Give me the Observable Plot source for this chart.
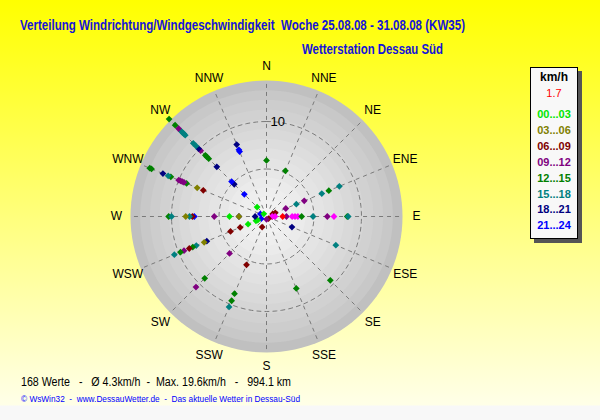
<!DOCTYPE html>
<html><head><meta charset="utf-8">
<script src="https://cdn.jsdelivr.net/npm/d3@7"></script>
<script src="https://cdn.jsdelivr.net/npm/@observablehq/plot@0.6"></script>
<style>
body{margin:0;}
#wrap{position:relative;width:600px;height:420px;overflow:hidden;
 background:linear-gradient(to bottom,#ffff00 0px,#ffffe8 405px,#f8f8f8 406px,#f8f8f8 420px);
 font-family:"Liberation Sans",Arial,sans-serif;}
#chart{position:absolute;left:0;top:0;}
.t{position:absolute;white-space:pre;transform-origin:0 50%;}
#legend{position:absolute;left:530px;top:67px;width:46px;height:170px;background:#f8f8f8;border:1px solid #000;box-shadow:4px 4px 0 #555;}
#legend div{position:absolute;left:0;width:46px;text-align:center;font-size:11px;font-weight:bold;line-height:11px;}
</style></head><body>
<div id="wrap">
<div id="chart"></div>
<div class="t" id="title" style="left:20px;top:16px;font-size:15px;line-height:17px;font-weight:bold;color:#1414d8;">Verteilung Windrichtung/Windgeschwindigkeit  Woche 25.08.08 - 31.08.08 (KW35)</div>
<div class="t" id="sub" style="left:302px;top:40px;font-size:15px;line-height:17px;font-weight:bold;color:#1414d8;">Wetterstation Dessau Süd</div>
<div class="t" id="foot1" style="left:21px;top:375px;font-size:12px;line-height:14px;color:#000;">168 Werte   -   Ø 4.3km/h  -  Max. 19.6km/h   -   994.1 km</div>
<div class="t" id="foot2" style="left:21px;top:394px;font-size:9px;line-height:10px;color:#0000ff;">© WsWin32  -  www.DessauWetter.de  -  Das aktuelle Wetter in Dessau-Süd</div>
<div id="legend"></div>
</div>
<script>
// ---- data ----
const directions = ["N","NNE","NE","ENE","E","ESE","SE","SSE","S","SSW","SW","WSW","W","WNW","NW","NNW"];
const timeGroups = ["00...03","03...06","06...09","09...12","12...15","15...18","18...21","21...24"];
const groupColors = ["#00e600","#808000","#800000","#800080","#008000","#008080","#000080","#0000ff","#ff00ff","#ff0000"];
const currentLabel = "1.7";
const currentSpeed = 1.7;
const currentDir = "E";
const ringLabel = "10";

// measured points: direction, speed km/h, colour group (0-7 time of day, 8 highlighted)
const pointDir = [
 "N","NNE",
 "ENE","ENE","ENE","ENE","ENE","ENE","ENE","ENE",
 "E","E","E","E","E","E","E","E","E","E","E","E","E",
 "ESE","ESE","SE","SE","SSE","S",
 "SSW","SSW","SSW","SSW","SSW",
 "SW","SW","SW",
 "WSW","WSW","WSW","WSW","WSW","WSW","WSW","WSW","WSW","WSW","WSW","WSW","WSW","WSW",
 "W","W","W","W","W","W","W","W","W","W","W",
 "WNW","WNW","WNW","WNW","WNW","WNW","WNW","WNW","WNW","WNW","WNW","WNW","WNW",
 "NW","NW","NW","NW","NW","NW","NW","NW","NW","NW","NW","NW","NW","NW","NW","NW","NW","NW","NW","NW",
 "NNW","NNW","NNW"
];
const pointSpeed = [
 5.9,5.2,
 0.7,1.0,2.2,3.4,4.3,6.3,7.1,8.3,
 0.6,0.6,0.9,2.1,2.7,3.0,3.3,3.7,4.9,6.4,7.1,8.5,8.6,
 2.9,7.9,9.5,0.3,8.2,0.3,
 1.2,5.5,8.8,9.6,10.3,
 5.5,9.2,10.5,
 0.6,1.0,1.2,2.1,3.0,4.1,6.8,7.1,8.0,8.4,8.8,9.4,9.8,10.5,
 1.2,2.9,2.9,3.9,5.5,7.6,7.8,8.1,8.5,10.3,10.0,
 0.7,7.2,7.9,9.1,9.4,9.6,9.8,10.0,10.9,11.2,11.8,13.1,13.3,
 0.4,1.4,3.3,4.8,5.2,7.4,8.6,8.9,9.1,9.8,10.1,10.5,10.9,12.1,12.3,12.5,12.7,13.1,13.6,14.5,
 7.4,7.6,8.2
];
const pointGroup = [
 4,4,
 2,2,3,5,3,5,4,5,
 2,8,8,3,8,8,8,4,5,3,8,4,5,
 6,5,4,2,4,3,
 2,2,4,4,5,
 3,4,3,
 7,0,0,0,2,2,6,1,5,4,2,3,4,5,
 6,6,1,0,3,7,2,5,1,4,5,
 7,2,1,4,3,3,3,3,4,5,6,4,4,
 0,0,7,6,7,6,4,4,4,3,6,5,5,5,5,5,5,3,4,4,
 7,7,6
];

// ---- chart ----
const PX = 9.5, CX = 266, CY = 216;          // layout of the polar frame
const R = 136 / PX;                           // outer radius in km/h
const ang = d => directions.indexOf(d) * 22.5 * Math.PI / 180;
const pts = pointDir.map((d, i) => ({x: pointSpeed[i] * Math.sin(ang(d)), y: pointSpeed[i] * Math.cos(ang(d)), c: groupColors[pointGroup[i]]}));
pts.push({x: currentSpeed * Math.sin(ang(currentDir)), y: currentSpeed * Math.cos(ang(currentDir)), c: groupColors[9]});

function circle(r) { const a = []; for (let t = 0; t < 360; t += 3) { const q = t * Math.PI / 180; a.push({x: r * Math.sin(q), y: r * Math.cos(q)}); } return a; }
const nRings = 14;
const shade = d3.interpolateRgb("#c0c0c0", "#f4f4f4");
const ringMarks = [];
for (let k = 0; k < nRings; k++) {
  const r = R * (1 - k / nRings);
  ringMarks.push(Plot.line(circle(r), {x: "x", y: "y", curve: "linear-closed", fill: shade(Math.pow(k / (nRings - 1), 0.75)), stroke: "none"}));
}
const spokes = directions.map(d => ({x1: 0.9 * Math.sin(ang(d)), y1: 0.9 * Math.cos(ang(d)), x2: R * Math.sin(ang(d)), y2: R * Math.cos(ang(d))}));
const labels = directions.map(d => ({x: 15.8 * Math.sin(ang(d)), y: 15.8 * Math.cos(ang(d)), t: d}));

const chart = Plot.plot({
  width: 600, height: 420, margin: 0,
  x: {domain: [-CX / PX, (600 - CX) / PX], axis: null},
  y: {domain: [-(420 - CY) / PX, CY / PX], axis: null},
  style: {background: "transparent", fontFamily: "Liberation Sans, Arial, sans-serif"},
  marks: [
    ...ringMarks,
    Plot.line(circle(5), {x: "x", y: "y", curve: "linear-closed", stroke: "#7a7a7a", strokeDasharray: "4,4", strokeWidth: 1}),
    Plot.line(circle(10), {x: "x", y: "y", curve: "linear-closed", stroke: "#7a7a7a", strokeDasharray: "4,4", strokeWidth: 1}),
    Plot.link(spokes, {x1: "x1", y1: "y1", x2: "x2", y2: "y2", stroke: "#7a7a7a", strokeDasharray: "4,4", strokeWidth: 1}),
    Plot.text(labels, {x: "x", y: "y", text: "t", fontSize: 12, fill: "#000"}),
    Plot.text([ringLabel], {x: 0.42, y: 10, text: d => d, textAnchor: "start", fontSize: 13, fill: "#000"}),
    Plot.dot(pts, {x: "x", y: "y", fill: "c", symbol: "square", rotate: 45, r: 2.7, stroke: "none"})
  ]
});
document.getElementById("chart").appendChild(chart);

// legend
const lg = document.getElementById("legend");
const addL = (txt, top, color, bold, size) => { const e = document.createElement("div"); e.textContent = txt; e.style.top = top + "px"; e.style.color = color; e.style.fontWeight = bold ? "bold" : "normal"; e.style.fontSize = size + "px"; lg.appendChild(e); };
addL("km/h", 4, "#000", true, 12);
addL(currentLabel, 20, "#ff0000", false, 11);
timeGroups.forEach((g, i) => addL(g, 41 + i * 15.9, groupColors[i], true, 11));

// fit text widths
function fit(id, w) { const e = document.getElementById(id); const cw = e.getBoundingClientRect().width; e.style.transform = "scaleX(" + (w / cw) + ")"; }
fit("title", 445); fit("sub", 141); fit("foot1", 270); fit("foot2", 279);
</script>
</body></html>
